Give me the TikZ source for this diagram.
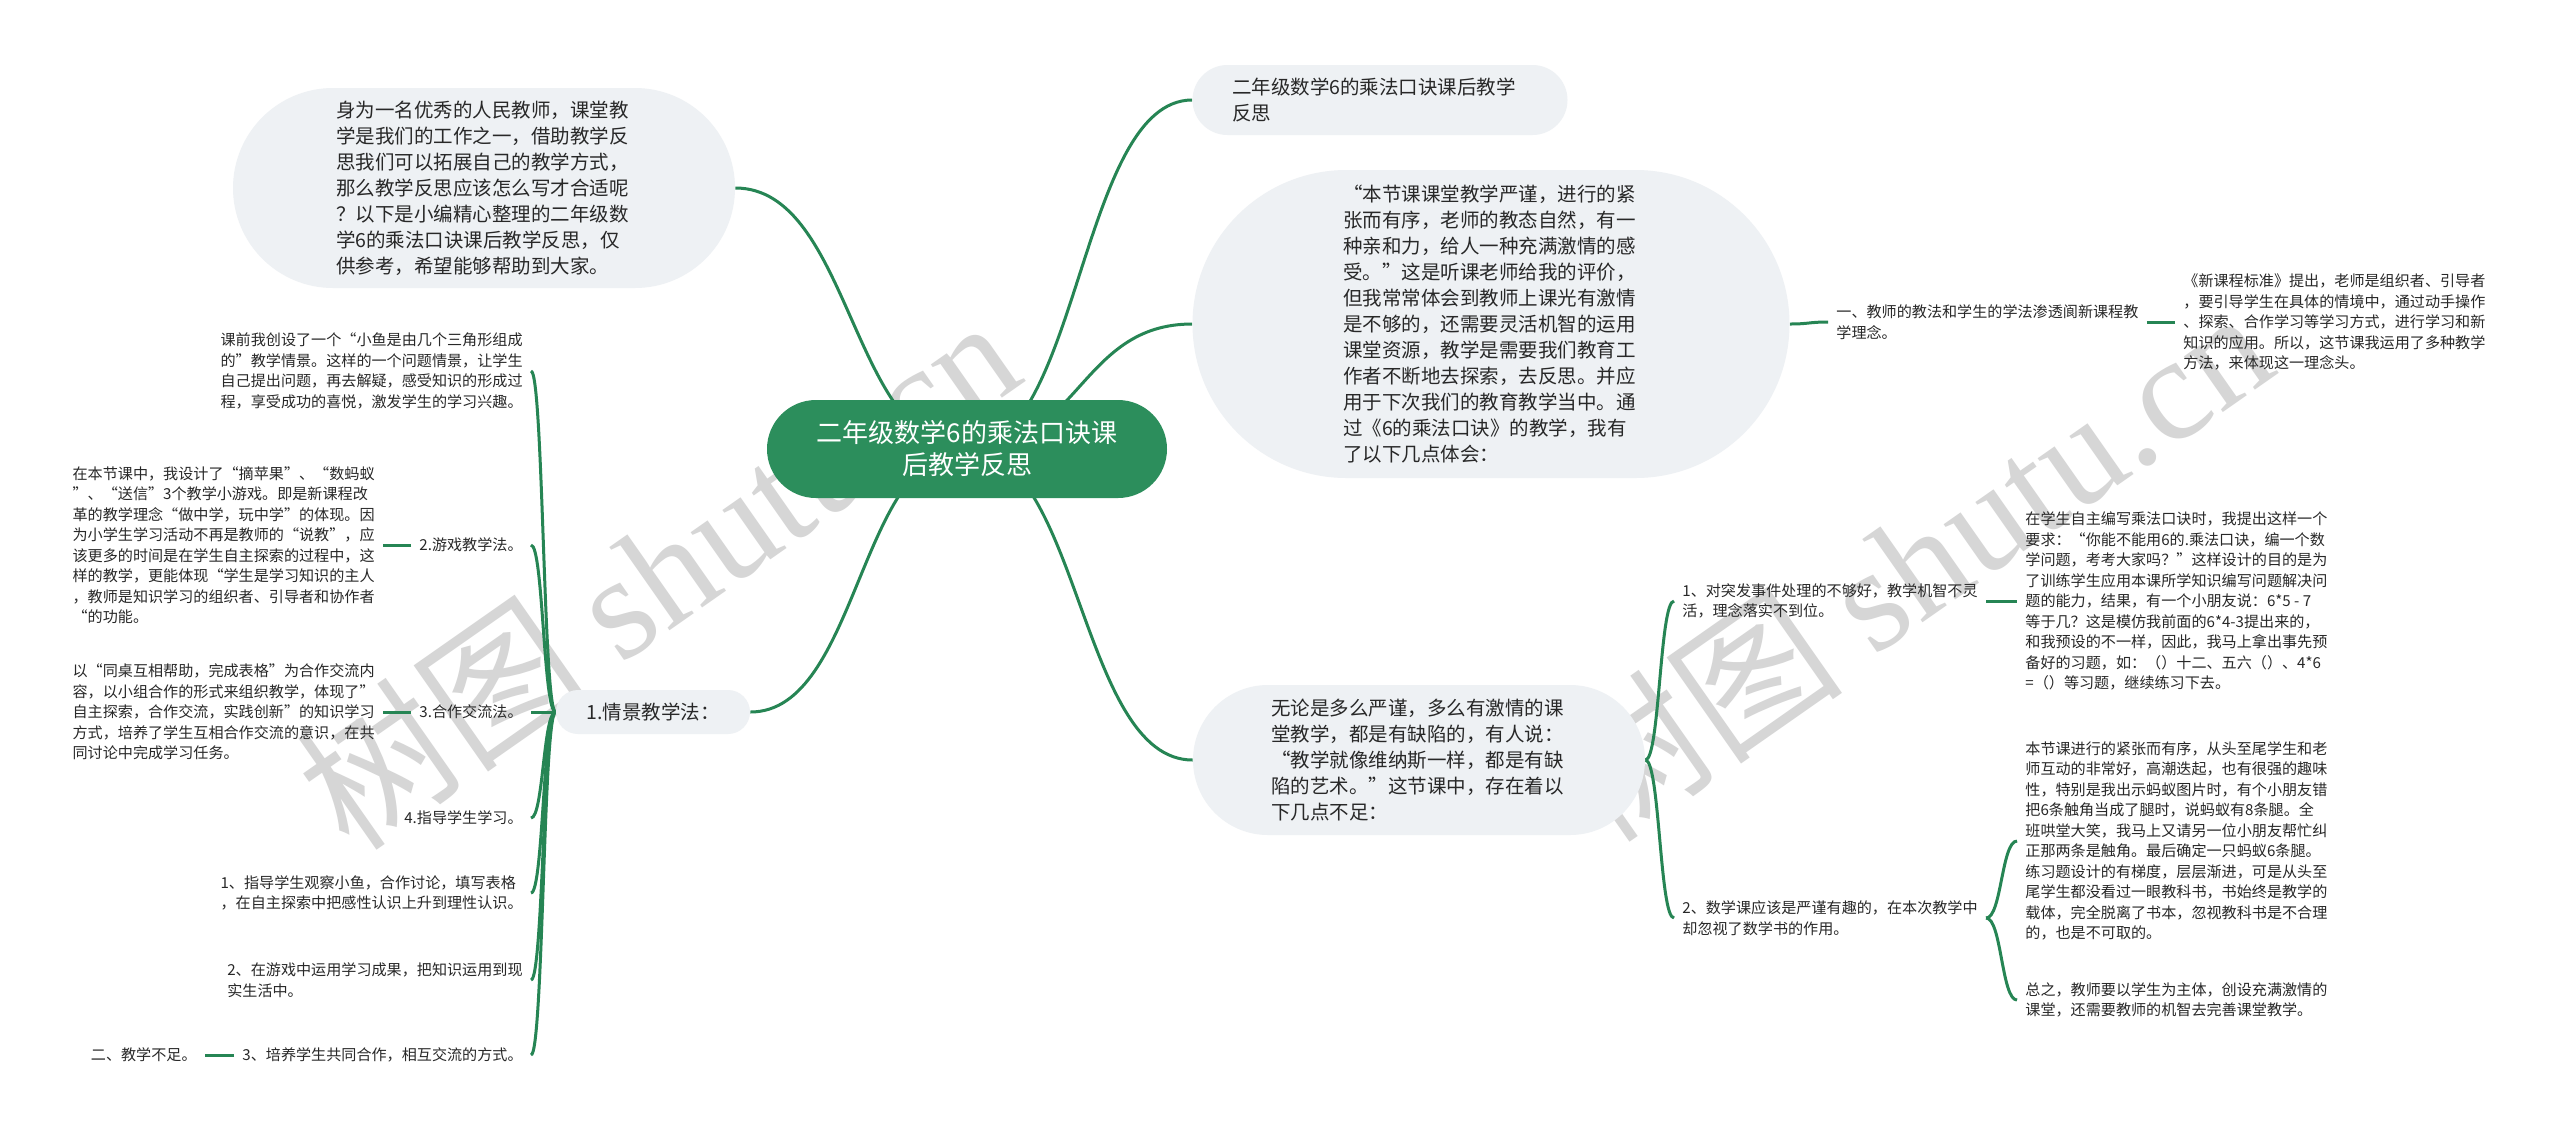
\documentclass[tikz,border=0pt]{standalone}
\usepackage{fontspec}
\setmainfont{Noto Sans CJK SC}
\newfontfamily\markfont{Liberation Serif}
\usepackage{tikz}
\usetikzlibrary{calc, backgrounds}
\definecolor{linkgreen}{RGB}{38,133,84}
\definecolor{rootgreen}{RGB}{44,142,92}
\definecolor{bubblegray}{RGB}{238,241,244}
\definecolor{inkgray}{RGB}{40,40,40}
\definecolor{markgray}{RGB}{214,214,214}
\def\leafFont{\fontsize{7.55}{10.25}\selectfont}
\def\bubbleFont{\fontsize{9.75}{13}\selectfont}
\newcommand{\branch}[2]{%
% #1 = from point, #2 = to point
\path ($(#1)!0.5!(#2)$) coordinate (mid);
\draw[link] (#1) .. controls (#1 -| mid) and (#2 -| mid) .. (#2);
}

\begin{document}
\begin{tikzpicture}[
    x=0.5pt, y=-0.5pt,
    link/.style={draw=linkgreen, line width=1.5pt},
    bubble/.style={rectangle, fill=bubblegray, text=inkgray, font=\bubbleFont, align=left, inner sep=0pt},
    leaf/.style={text=inkgray, font=\leafFont, align=left, inner xsep=4pt, inner ysep=2pt},
    watermark/.style={text=markgray, font=\fontsize{74}{74}\selectfont, rotate=35}
]
\useasboundingbox (0,0) rectangle (2560,1137);

% root
\node[rectangle, fill=rootgreen, text=white, font=\fontsize{13}{16}\selectfont, align=center,
    minimum width=200pt, minimum height=49pt, rounded corners=24.5pt] (root) at (967,449)
    {二年级数学6的乘法口诀课\\后教学反思};

% left side
\node[bubble, text width=148pt, minimum width=251pt, minimum height=100pt, rounded corners=50pt] (intro) at (484,188)
    {身为一名优秀的人民教师，课堂教\\学是我们的工作之一，借助教学反\\思我们可以拓展自己的教学方式，\\那么教学反思应该怎么写才合适呢\\？以下是小编精心整理的二年级数\\学6的乘法口诀课后教学反思，仅\\供参考，希望能够帮助到大家。};
\node[bubble, align=center, minimum width=97pt, minimum height=22pt, rounded corners=11pt] (scene) at (653,712)
    {1.情景教学法：};

\node[leaf, anchor=east] (before) at (531,371)
    {课前我创设了一个“小鱼是由几个三角形组成\\的”教学情景。这样的一个问题情景，让学生\\自己提出问题，再去解疑，感受知识的形成过\\程，享受成功的喜悦，激发学生的学习兴趣。};
\node[leaf, anchor=east] (game) at (531,545) {2.游戏教学法。};
\node[leaf, anchor=east] (gametext) at (383,545)
    {在本节课中，我设计了“摘苹果”、“数蚂蚁\\”、“送信”3个教学小游戏。即是新课程改\\革的教学理念“做中学，玩中学”的体现。因\\为小学生学习活动不再是教师的“说教”，应\\该更多的时间是在学生自主探索的过程中，这\\样的教学，更能体现“学生是学习知识的主人\\，教师是知识学习的组织者、引导者和协作者\\“的功能。};
\node[leaf, anchor=east] (coop) at (531,712) {3.合作交流法。};
\node[leaf, anchor=east] (cooptext) at (383,712)
    {以“同桌互相帮助，完成表格”为合作交流内\\容，以小组合作的形式来组织教学，体现了”\\自主探索，合作交流，实践创新”的知识学习\\方式，培养了学生互相合作交流的意识，在共\\同讨论中完成学习任务。};
\node[leaf, anchor=east] (guide) at (531,818) {4.指导学生学习。};
\node[leaf, anchor=east] (observe) at (531,893)
    {1、指导学生观察小鱼，合作讨论，填写表格\\，在自主探索中把感性认识上升到理性认识。};
\node[leaf, anchor=east] (apply) at (531,980)
    {2、在游戏中运用学习成果，把知识运用到现\\实生活中。};
\node[leaf, anchor=east] (team) at (531,1055) {3、培养学生共同合作，相互交流的方式。};
\node[leaf, anchor=east] (lack) at (205,1055) {二、教学不足。};

% right side
\node[bubble, text width=148pt, minimum width=187.5pt, minimum height=35pt, rounded corners=17.5pt] (title) at (1380,100)
    {二年级数学6的乘法口诀课后教学\\反思};
\node[bubble, text width=148pt, minimum width=298.5pt, minimum height=154pt, rounded corners=77pt] (review) at (1491,324)
    {“本节课课堂教学严谨，进行的紧\\张而有序，老师的教态自然，有一\\种亲和力，给人一种充满激情的感\\受。”这是听课老师给我的评价，\\但我常常体会到教师上课光有激情\\是不够的，还需要灵活机智的运用\\课堂资源，教学是需要我们教育工\\作者不断地去探索，去反思。并应\\用于下次我们的教育教学当中。通\\过《6的乘法口诀》的教学，我有\\了以下几点体会：};
\node[bubble, text width=148pt, minimum width=226pt, minimum height=75pt, rounded corners=37.5pt] (flaw) at (1419,760)
    {无论是多么严谨，多么有激情的课\\堂教学，都是有缺陷的，有人说：\\“教学就像维纳斯一样，都是有缺\\陷的艺术。”这节课中，存在着以\\下几点不足：};

\node[leaf, anchor=west] (method) at (1828,322)
    {一、教师的教法和学生的学法渗透阆新课程教\\学理念。};
\node[leaf, anchor=west] (standard) at (2175,322)
    {《新课程标准》提出，老师是组织者、引导者\\，要引导学生在具体的情境中，通过动手操作\\、探索、合作学习等学习方式，进行学习和新\\知识的应用。所以，这节课我运用了多种教学\\方法，来体现这一理念头。};
\node[leaf, anchor=west] (sudden) at (1674,601)
    {1、对突发事件处理的不够好，教学机智不灵\\活，理念落实不到位。};
\node[leaf, anchor=west] (sudtext) at (2017,601)
    {在学生自主编写乘法口诀时，我提出这样一个\\要求：“你能不能用6的.乘法口诀，编一个数\\学问题，考考大家吗？”这样设计的目的是为\\了训练学生应用本课所学知识编写问题解决问\\题的能力，结果，有一个小朋友说：6*5 - 7\\等于几？这是模仿我前面的6*4-3提出来的，\\和我预设的不一样，因此，我马上拿出事先预\\备好的习题，如：（）十二、五六（）、4*6\\=（）等习题，继续练习下去。};
\node[leaf, anchor=west] (book) at (1674,918)
    {2、数学课应该是严谨有趣的，在本次教学中\\却忽视了数学书的作用。};
\node[leaf, anchor=west] (booktext) at (2017,841)
    {本节课进行的紧张而有序，从头至尾学生和老\\师互动的非常好，高潮迭起，也有很强的趣味\\性，特别是我出示蚂蚁图片时，有个小朋友错\\把6条触角当成了腿时，说蚂蚁有8条腿。全\\班哄堂大笑，我马上又请另一位小朋友帮忙纠\\正那两条是触角。最后确定一只蚂蚁6条腿。\\练习题设计的有梯度，层层渐进，可是从头至\\尾学生都没看过一眼教科书，书始终是教学的\\载体，完全脱离了书本，忽视教科书是不合理\\的，也是不可取的。};
\node[leaf, anchor=west] (summary) at (2017,1000)
    {总之，教师要以学生为主体，创设充满激情的\\课堂，还需要教师的机智去完善课堂教学。};

\begin{scope}[on background layer]
\fill[white] (0,0) rectangle (2560,1137);
\node[watermark] (mark1) at (657,571) {树图 {\markfont shutu.cn}};
\node[watermark] (mark2) at (1910,563) {树图 {\markfont shutu.cn}};

\branch{root.center}{intro.east}
\branch{root.center}{scene.east}
\branch{root.center}{title.west}
\branch{root.center}{review.west}
\branch{root.center}{flaw.west}

\branch{scene.west}{before.east}
\branch{scene.west}{game.east}
\branch{scene.west}{coop.east}
\branch{scene.west}{guide.east}
\branch{scene.west}{observe.east}
\branch{scene.west}{apply.east}
\branch{scene.west}{team.east}
\branch{game.west}{gametext.east}
\branch{coop.west}{cooptext.east}
\branch{team.west}{lack.east}

\branch{review.east}{method.west}
\branch{method.east}{standard.west}
\branch{flaw.east}{sudden.west}
\branch{flaw.east}{book.west}
\branch{sudden.east}{sudtext.west}
\branch{book.east}{booktext.west}
\branch{book.east}{summary.west}
\end{scope}
\end{tikzpicture}
\end{document}
